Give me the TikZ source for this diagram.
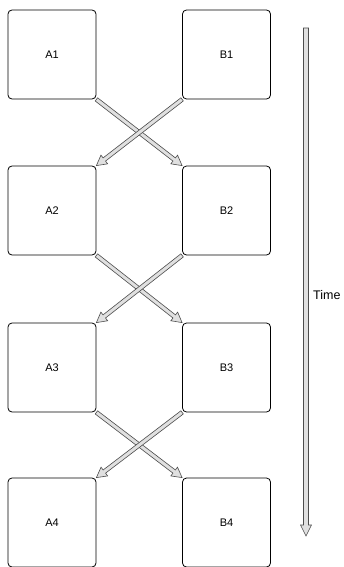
\documentclass[tikz,border=0pt]{standalone}
\usepackage{fontspec}
\setmainfont{Liberation Sans}
\usetikzlibrary{calc}
\tikzset{
  box/.style={draw=black, line width=0.8pt, rounded corners=4pt, minimum width=88pt, minimum height=89pt, inner sep=0pt, font=\fontsize{11}{13}\selectfont},
  flex/.style={draw=black!70, fill=black!12, line width=0.6pt, line join=miter},
}
% flex arrow: #1 start, #2 end, #3 half shaft width, #4 half head width, #5 head length
\newcommand\flexarr[5]{%
  \coordinate (fs) at (#1);
  \coordinate (fe) at (#2);
  \coordinate (fh) at ($(fe)!#5!(fs)$);
  \draw[flex] ($(fs)!#3!90:(fe)$) -- ($(fh)!#3!-90:(fs)$) -- ($(fh)!#4!-90:(fs)$) -- (fe)
     -- ($(fh)!#4!90:(fs)$) -- ($(fh)!#3!90:(fs)$) -- ($(fs)!#3!-90:(fe)$) -- cycle;
}
\begin{document}
\begin{tikzpicture}[x=1pt,y=-1pt]
\useasboundingbox (0,0) rectangle (344,567);
\node[box] (A1) at (52,54.5) {A1};
\node[box] (B1) at (226.5,54.5) {B1};
\node[box] (A2) at (52,210.5) {A2};
\node[box] (B2) at (226.5,210.5) {B2};
\node[box] (A3) at (52,367.5) {A3};
\node[box] (B3) at (226.5,367.5) {B3};
\node[box] (A4) at (52,522.5) {A4};
\node[box] (B4) at (226.5,522.5) {B4};
\flexarr{A1.south east}{B2.north west}{2pt}{5.5pt}{10pt}
\flexarr{B1.south west}{A2.north east}{2pt}{5.5pt}{10pt}
\flexarr{A2.south east}{B3.north west}{2pt}{5.5pt}{10pt}
\flexarr{B2.south west}{A3.north east}{2pt}{5.5pt}{10pt}
\flexarr{A3.south east}{B4.north west}{2pt}{5.5pt}{10pt}
\flexarr{B3.south west}{A4.north east}{2pt}{5.5pt}{10pt}
\coordinate (t1) at (306,28);
\coordinate (t2) at (306,536);
\flexarr{t1}{t2}{2.5pt}{5.5pt}{11pt}
\node[anchor=west, inner sep=0pt, font=\fontsize{12.5}{14}\selectfont] (time) at (313,295) {Time};
\end{tikzpicture}
\end{document}
